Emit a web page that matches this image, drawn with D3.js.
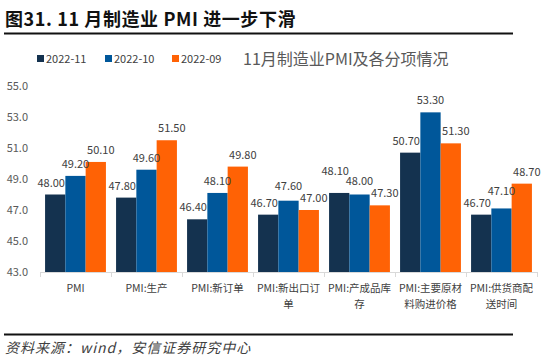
<!DOCTYPE html>
<html>
<head>
<meta charset="utf-8">
<script src="https://cdn.jsdelivr.net/npm/d3@7/dist/d3.min.js"></script>
<style>
  body { margin: 0; background: #fff; }
  text { font-family: "Noto Sans CJK SC", "Noto Sans", sans-serif; }
</style>
</head>
<body>
<svg width="550" height="363" id="mainsvg"></svg>
<script>
  // data
  const categories = ['PMI', 'PMI:生产', 'PMI:新订单', 'PMI:新出口订单', 'PMI:产成品库存', 'PMI:主要原材料购进价格', 'PMI:供货商配送时间'];
  const labelLines = [['PMI'], ['PMI:生产'], ['PMI:新订单'], ['PMI:新出口订', '单'], ['PMI:产成品库', '存'], ['PMI:主要原材', '料购进价格'], ['PMI:供货商配', '送时间']];
  const series = ['2022-11', '2022-10', '2022-09'];
  const nov = [48.0, 47.8, 46.4, 46.7, 48.1, 50.7, 46.7];
  const oct = [49.2, 49.6, 48.1, 47.6, 48.0, 53.3, 47.1];
  const sep = [50.1, 51.5, 49.8, 47.0, 47.3, 51.3, 48.7];
  const yTicks = [43, 45, 47, 49, 51, 53, 55];
  const colors = ['#14324F', '#00579A', '#FF6205'];

  const values = [nov, oct, sep];
  const svg = d3.select('svg');

  // header
  svg.append('text').attr('x', 5).attr('y', 26)
    .attr('font-size', 18).attr('font-weight', 'bold').attr('fill', '#111')
    .attr('letter-spacing', 0.6)
    .text('图31. 11 月制造业 PMI 进一步下滑');
  svg.append('line').attr('x1', 4).attr('x2', 513).attr('y1', 33.5).attr('y2', 33.5)
    .attr('stroke', '#111').attr('stroke-width', 2);

  // scales
  const x0 = d3.scaleBand().domain(categories).range([40, 537]);
  const x1 = d3.scaleBand().domain(series).range([0, x0.bandwidth()]).paddingOuter(0.25);
  const y = d3.scaleLinear().domain([43, 55]).range([272, 86]);

  // y axis labels
  const yAxis = svg.append('g').attr('transform', 'translate(29,0)')
    .call(d3.axisLeft(y).tickValues(yTicks).tickSize(0).tickPadding(1).tickFormat(d3.format('.1f')));
  yAxis.select('.domain').remove();
  yAxis.selectAll('text').attr('font-size', 11).attr('fill', '#595959')
    .attr('font-family', '"Liberation Sans", sans-serif');

  // bars
  series.forEach((s, i) => {
    svg.append('g').selectAll('rect').data(values[i]).join('rect')
      .attr('x', (d, j) => x0(categories[j]) + x1(s))
      .attr('y', d => y(d))
      .attr('width', x1.bandwidth())
      .attr('height', d => y(43) - y(d))
      .attr('fill', colors[i]);
  });

  // value labels: nudge sideways per series, then lift the higher one when two neighbours collide
  const dx = [-4, 0, 5];
  const minGap = 12;
  const labels = [];
  categories.forEach((c, j) => {
    const row = series.map((s, i) => ({
      v: values[i][j],
      x: x0(c) + x1(s) + x1.bandwidth() / 2 + dx[i],
      y: y(values[i][j]) - 8
    }));
    for (let i = 1; i < row.length; i++) {
      const a = row[i - 1], b = row[i];
      if (Math.abs(a.y - b.y) < minGap) {
        if (a.y <= b.y) a.y = b.y - minGap; else b.y = a.y - minGap;
      }
    }
    labels.push(...row);
  });
  svg.append('g').selectAll('text').data(labels).join('text')
    .attr('x', d => d.x)
    .attr('y', d => d.y)
    .attr('text-anchor', 'middle')
    .attr('font-size', 11)
    .attr('font-family', '"Liberation Sans", sans-serif')
    .attr('fill', '#404040')
    .text(d => d.v.toFixed(2));

  // x axis
  svg.append('line').attr('x1', 40).attr('x2', 537).attr('y1', 272.5).attr('y2', 272.5)
    .attr('stroke', '#d9d9d9');
  svg.append('g').selectAll('line').data(categories.concat([null])).join('line')
    .attr('x1', (d, j) => Math.round(40 + j * x0.step()) + 0.5)
    .attr('x2', (d, j) => Math.round(40 + j * x0.step()) + 0.5)
    .attr('y1', 272).attr('y2', 277)
    .attr('stroke', '#d9d9d9');

  const xl = svg.append('g').selectAll('text').data(labelLines).join('text')
    .attr('text-anchor', 'middle')
    .attr('font-size', 10.5)
    .attr('fill', '#404040');
  xl.each(function(lines, j) {
    const t = d3.select(this);
    lines.forEach((ln, k) => {
      t.append('tspan')
        .attr('x', x0(categories[j]) + x0.bandwidth() / 2)
        .attr('y', 292 + k * 15.5)
        .text(ln);
    });
  });

  // legend
  const lx = [37, 105, 172];
  series.forEach((s, i) => {
    svg.append('rect').attr('x', lx[i]).attr('y', 55).attr('width', 7).attr('height', 7).attr('fill', colors[i]);
    svg.append('text').attr('x', lx[i] + 9).attr('y', 62.5)
      .attr('font-size', 11).attr('fill', '#404040')
      .text(s);
  });

  // chart title
  svg.append('text').attr('x', 243).attr('y', 65)
    .attr('font-size', 16).attr('fill', '#595959')
    .text('11月制造业PMI及各分项情况');

  // footer
  svg.append('line').attr('x1', 4).attr('x2', 513).attr('y1', 334.5).attr('y2', 334.5)
    .attr('stroke', '#111').attr('stroke-width', 2);
  svg.append('text').attr('x', 5).attr('y', 353)
    .attr('font-size', 14).attr('font-style', 'italic').attr('fill', '#404040')
    .attr('letter-spacing', 1)
    .text('资料来源：wind，安信证券研究中心');
</script>
</body>
</html>
